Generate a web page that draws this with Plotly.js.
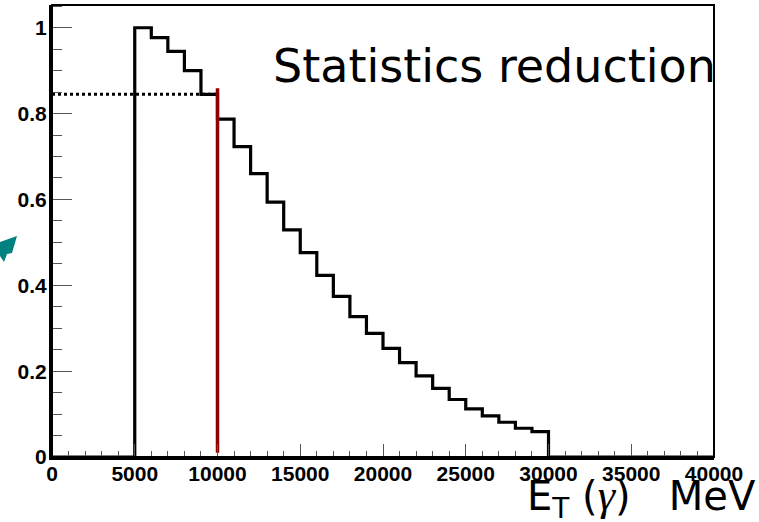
<!DOCTYPE html>
<html>
<head>
<meta charset="utf-8">
<script src="https://cdn.plot.ly/plotly-3.0.1.min.js"></script>
<style>html,body{margin:0;padding:0;background:#fff;}#chart{width:759px;height:522px;}</style>
</head>
<body>
<div id="chart"></div>
<script>
// Bin edges (MeV) of the E_T(gamma) histogram
var binEdges = [0,1000,2000,3000,4000,5000,6000,7000,8000,9000,10000,11000,12000,13000,14000,15000,16000,17000,18000,19000,20000,21000,22000,23000,24000,25000,26000,27000,28000,29000,30000,31000,32000,33000,34000,35000,36000,37000,38000,39000,40000];
// Bin contents (normalised)
var binValues = [0,0,0,0,0,1.0,0.977,0.945,0.900,0.845,0.787,0.723,0.660,0.594,0.529,0.476,0.423,0.374,0.327,0.288,0.253,0.220,0.189,0.160,0.134,0.112,0.096,0.081,0.067,0.059,0,0,0,0,0,0,0,0,0,0];
// Dotted reference level and cut line
var refLevelX = [0, 10000];
var refLevelY = [0.845, 0.845];
var cutX = [10000, 10000];
var cutY = [0.01, 0.859];
// Tick labels
var xTickVals = [0,5000,10000,15000,20000,25000,30000,35000,40000];
var xTickText = ['0','5000','10000','15000','20000','25000','30000','35000','40000'];
var yTickVals = [0,0.2,0.4,0.6,0.8,1];
var yTickText = ['0','0.2','0.4','0.6','0.8','1'];
var titleText = 'Statistics reduction';
var axisTitleText = 'E<sub>T</sub> (<span style="font-family:\'Liberation Serif\',serif;font-style:italic;font-size:44px">γ</span>)&nbsp;&nbsp;&nbsp;MeV';

var stepY = binValues.concat([binValues[binValues.length - 1]]);

// plot area in pixels
var L = 52, R = 714, T = 5, B = 457, W = 759, H = 522;
function px(x){ return (x - L) / (R - L); }
function py(y){ return (B - y) / (B - T); }

var traces = [
  {x: refLevelX, y: refLevelY, mode: 'lines', line: {color: 'black', width: 3, dash: 'dot'}, hoverinfo: 'skip'},
  {x: binEdges, y: stepY, mode: 'lines', line: {color: 'black', width: 3.2, shape: 'hv'}, hoverinfo: 'skip'},
  {x: cutX, y: cutY, mode: 'lines', line: {color: '#8b0000', width: 3.5}, hoverinfo: 'skip'}
];

var tickFont = {family: 'Liberation Sans, Arial, sans-serif', size: 21, color: 'black', weight: 'bold'};

var arrowPts = [[17,236],[0,242],[0,256],[4,262],[7,254],[12,253]];
var arrowPath = 'M ' + arrowPts.map(function(p){ return px(p[0]) + ' ' + py(p[1]); }).join(' L ') + ' Z';

var layout = {
  width: W, height: H,
  margin: {l: L, r: W - R, t: T, b: H - B, pad: 0},
  paper_bgcolor: 'white', plot_bgcolor: 'white',
  showlegend: false,
  xaxis: {
    range: [0, 40000], tickmode: 'array', tickvals: xTickVals, ticktext: xTickText,
    ticks: 'inside', ticklen: 13, tickwidth: 1, tickcolor: '#555',
    showline: true, linewidth: 3, linecolor: 'black', ticklabelstandoff: -4,
    showgrid: false, zeroline: false, tickfont: tickFont,
    minor: {tick0: 0, dtick: 1000, ticks: 'inside', ticklen: 6, tickwidth: 1, tickcolor: '#555', showgrid: false}
  },
  yaxis: {
    range: [0, 1.053], tickmode: 'array', tickvals: yTickVals, ticktext: yTickText,
    ticks: 'inside', ticklen: 20, tickwidth: 1, tickcolor: '#555',
    showline: true, linewidth: 3, linecolor: 'black', ticklabelstandoff: -2,
    showgrid: false, zeroline: false, tickfont: tickFont,
    minor: {tick0: 0, dtick: 0.05, ticks: 'inside', ticklen: 10, tickwidth: 1, tickcolor: '#555', showgrid: false}
  },
  shapes: [
    {type: 'rect', xref: 'paper', yref: 'paper', x0: 0, x1: 1, y0: 0, y1: 1, line: {color: 'black', width: 2}},
    {type: 'path', xref: 'paper', yref: 'paper', path: arrowPath, fillcolor: '#008080', line: {width: 0}}
  ],
  annotations: [
    {xref: 'paper', yref: 'paper', x: px(718), y: py(66), xanchor: 'right', yanchor: 'middle',
     text: titleText, showarrow: false,
     font: {family: 'DejaVu Sans, Verdana, sans-serif', size: 46, color: 'black'}},
    {xref: 'paper', yref: 'paper', x: px(758), y: py(498), xanchor: 'right', yanchor: 'middle',
     text: axisTitleText, showarrow: false,
     font: {family: 'DejaVu Sans, Verdana, sans-serif', size: 40, color: 'black'}}
  ]
};

Plotly.newPlot('chart', traces, layout, {displayModeBar: false, staticPlot: true});
</script>
</body>
</html>
